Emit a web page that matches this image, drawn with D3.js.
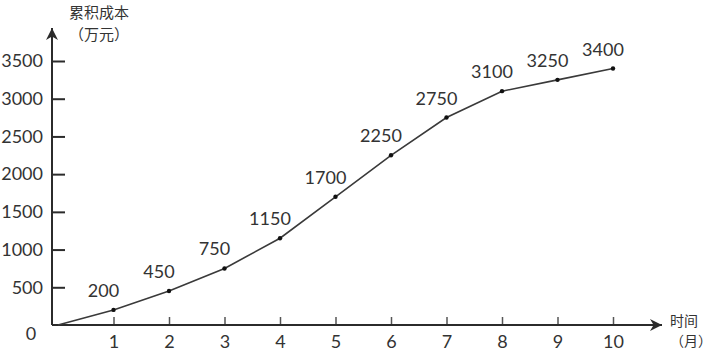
<!DOCTYPE html>
<html>
<head>
<meta charset="utf-8">
<script src="https://cdn.jsdelivr.net/npm/d3@7"></script>
<style>
  body { margin: 0; background: #fff; }
  svg { display: block; }
</style>
</head>
<body>
<div id="chart"></div>
<script>
// DATA
const months = [0, 1, 2, 3, 4, 5, 6, 7, 8, 9, 10];
const cost = [0, 200, 450, 750, 1150, 1700, 2250, 2750, 3100, 3250, 3400];
const yTicks = [500, 1000, 1500, 2000, 2500, 3000, 3500];
const xTicks = [1, 2, 3, 4, 5, 6, 7, 8, 9, 10];
const yTitle = ['累积成本', '（万元）'];
const xTitle = ['时间', '（月）'];

const width = 711, height = 351;
const numFont = 'Lato, "Open Sans", sans-serif';
const cjkFont = '"Noto Sans CJK SC", sans-serif';
const ink = '#2b2b2b';

const svg = d3.select('#chart').append('svg')
    .attr('width', width)
    .attr('height', height);

// SCALES
const x = d3.scaleLinear().domain([0, 10]).range([58, 613]);
const y = d3.scaleLinear().domain([0, 3500]).range([325, 61]);
const axisX = 52;          // where the vertical axis sits
const y0 = y(0);

// arrow head
svg.append('defs').append('marker')
    .attr('id', 'arrow')
    .attr('viewBox', '0 0 10 10')
    .attr('refX', 10).attr('refY', 5)
    .attr('markerWidth', 6).attr('markerHeight', 6)
    .attr('markerUnits', 'strokeWidth')
    .attr('orient', 'auto')
  .append('path')
    .attr('d', 'M0,0 L10,5 L0,10 L3,5 Z')
    .attr('fill', ink);

// Y AXIS
const yAxisG = svg.append('g')
    .attr('transform', `translate(${axisX},0)`)
    .call(d3.axisLeft(y).tickValues(yTicks).tickFormat(d3.format('d'))
            .tickSize(-13).tickPadding(9));
yAxisG.select('.domain').remove();
yAxisG.selectAll('.tick line').attr('stroke', ink).attr('stroke-width', 2);
yAxisG.selectAll('.tick text')
    .attr('fill', '#333')
    .style('font-family', numFont)
    .style('font-size', '18px');

// X AXIS
const xAxisG = svg.append('g')
    .attr('transform', `translate(0,${y0})`)
    .call(d3.axisBottom(x).tickValues(xTicks).tickFormat(d3.format('d'))
            .tickSize(-8).tickPadding(10));
xAxisG.select('.domain').remove();
xAxisG.selectAll('.tick line').attr('stroke', '#555').attr('stroke-width', 1.5);
xAxisG.selectAll('.tick text')
    .attr('fill', '#333')
    .style('font-family', numFont)
    .style('font-size', '18px');

// axis lines with arrows
svg.append('line')
    .attr('x1', axisX).attr('y1', y0)
    .attr('x2', axisX).attr('y2', 28)
    .attr('stroke', ink).attr('stroke-width', 2)
    .attr('marker-end', 'url(#arrow)');
svg.append('line')
    .attr('x1', axisX).attr('y1', y0)
    .attr('x2', 662).attr('y2', y0)
    .attr('stroke', ink).attr('stroke-width', 2)
    .attr('marker-end', 'url(#arrow)');

// origin label
svg.append('text')
    .attr('x', 31).attr('y', y0 + 15)
    .attr('text-anchor', 'middle')
    .attr('fill', '#333')
    .style('font-family', numFont)
    .style('font-size', '18px')
    .text('0');

// axis titles
svg.append('g').selectAll('text').data(yTitle).join('text')
    .attr('x', 99)
    .attr('y', (d, i) => 18 + i * 22)
    .attr('text-anchor', 'middle')
    .attr('fill', '#333')
    .style('font-family', cjkFont)
    .style('font-size', '15px')
    .text(d => d);

svg.append('g').selectAll('text').data(xTitle).join('text')
    .attr('x', 670)
    .attr('y', (d, i) => 326 + i * 20)
    .attr('fill', '#333')
    .style('font-family', cjkFont)
    .style('font-size', '14px')
    .text(d => d);

// LINE
const pts = months.map((m, i) => ({ m, v: cost[i] }));
const line = d3.line().x(d => x(d.m)).y(d => y(d.v));

svg.append('path')
    .datum(pts)
    .attr('d', line)
    .attr('fill', 'none')
    .attr('stroke', '#3a3a3a')
    .attr('stroke-width', 1.6);

svg.append('g').selectAll('circle').data(pts.slice(1)).join('circle')
    .attr('cx', d => x(d.m))
    .attr('cy', d => y(d.v))
    .attr('r', 2.2)
    .attr('fill', '#111');

// value labels
svg.append('g').selectAll('text').data(pts.slice(1)).join('text')
    .attr('x', d => x(d.m) - 10)
    .attr('y', d => y(d.v) - 13)
    .attr('text-anchor', 'middle')
    .attr('fill', '#333')
    .style('font-family', numFont)
    .style('font-size', '18px')
    .text(d => d.v);
</script>
</body>
</html>
